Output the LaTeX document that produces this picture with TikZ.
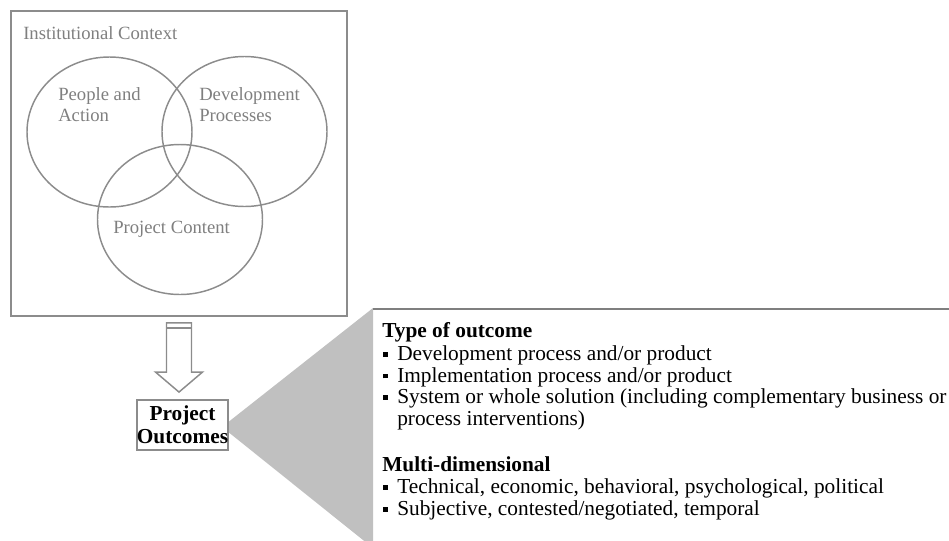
\documentclass[tikz,border=0pt]{standalone}
\usepackage{fontspec}
\setmainfont{Liberation Serif}
\usetikzlibrary{arrows.meta,positioning,calc,shapes.geometric}

\definecolor{ringgray}{HTML}{8C8C8C}
\definecolor{labelgray}{HTML}{7F7F7F}
\definecolor{wedgegray}{HTML}{C0C0C0}
\newcommand{\sqbullet}{\makebox[10.5pt][l]{\raisebox{0.17em}{\rule{3.6pt}{3.6pt}}}}
\newcommand{\bodysize}{\fontsize{14}{16.1}\selectfont}
\newcommand{\calloutsize}{\fontsize{16}{16.1}\selectfont}

\begin{document}
\begin{tikzpicture}[x=0.75pt,y=-0.75pt,
    ring/.style={draw=ringgray, line width=1.1pt, ellipse, minimum width=123.75pt, minimum height=112.5pt, inner sep=0pt},
    grayname/.style={text=labelgray, font=\bodysize, align=left, anchor=base west, inner sep=0pt},
    itemline/.style={font=\calloutsize, anchor=base west, inner sep=0pt},
    outbox/.style={draw=ringgray, line width=1.4pt, fill=white, minimum width=68.25pt, minimum height=37.5pt, inner sep=0pt,
        font=\fontsize{16}{17.25}\selectfont\bfseries, align=center},
    hollow/.style={draw=ringgray, line width=1.1pt, fill=white, line join=miter}]
    \useasboundingbox (0,0) rectangle (949,540);

    % institutional context with the three overlapping areas
    \node[draw=ringgray, line width=1.4pt, minimum width=252pt, minimum height=228.75pt, inner sep=0pt] (ctx) at (179,163.5) {};
    \node[grayname] (ctxname) at (23,39) {Institutional Context};

    \node[ring] (pa) at (109.5,132) {};
    \node[ring] (dp) at (244.5,131.5) {};
    \node[ring] (pc) at (180,219.5) {};
    \node[grayname] (paname) at (58,121.5) {People and\\Action};
    \node[grayname] (dpname) at (199,121.5) {Development\\Processes};
    \node[grayname] (pcname) at (113,233) {Project Content};

    % outcomes and the callout wedge
    \coordinate (outpos) at (182.5,425);
    \coordinate (wtip) at ($(outpos)+(39.5,2)$);
    \coordinate (wtop) at (373,308);
    \coordinate (wbot) at (373,548);
    \fill[wedgegray] (wtip) -- (wtop) -- (wbot) -- cycle;
    \coordinate (cright) at (949,309);
    \draw[draw=labelgray, line width=1.5pt] (wtop |- cright) -- (cright);
    \node[outbox] (outc) at (outpos) {Project\\Outcomes};

    % hollow arrow
    \coordinate (atop) at ($(ctx.south)+(0,6)$);
    \coordinate (atip) at ($(ctx.south |- outc.north)+(0,-7)$);
    \draw[hollow] (atip) -- ($(atip)+(-23.5,-20)$) -- ($(atip)+(-12.5,-20)$) -- ($(atop)+(-12.5,0)$)
        -- ($(atop)+(12.5,0)$) -- ($(atip)+(12.5,-20)$) -- ($(atip)+(23.5,-20)$) -- cycle;
    \draw[draw=ringgray, line width=1.1pt] ($(atop)+(-12.5,5)$) -- ($(atop)+(12.5,5)$);

    % callout text
    \node[itemline] (typehead) at (382,337) {\textbf{Type of outcome}};
    \node[itemline] (type1) at (383,360.5) {\sqbullet Development process and/or product};
    \node[itemline] (type2) at (383,382) {\sqbullet Implementation process and/or product};
    \node[itemline] (type3) at (383,403.5) {\sqbullet System or whole solution (including complementary business or};
    \node[itemline] (type3b) at (397,425) {process interventions)};
    \node[itemline] (dimhead) at (382,471.5) {\textbf{Multi-dimensional}};
    \node[itemline] (dim1) at (383,493.5) {\sqbullet Technical, economic, behavioral, psychological, political};
    \node[itemline] (dim2) at (383,515.5) {\sqbullet Subjective, contested/negotiated, temporal};
\end{tikzpicture}
\end{document}
